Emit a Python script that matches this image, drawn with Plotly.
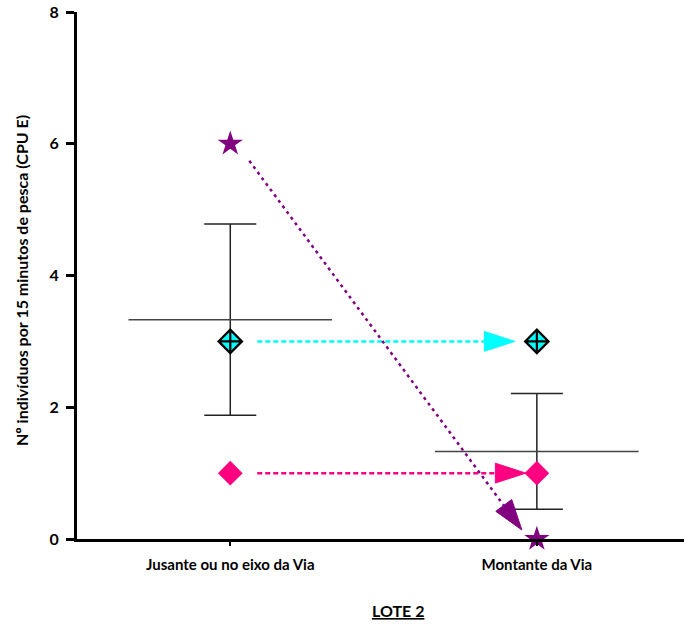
import plotly.graph_objects as go

categories = ["Jusante ou no eixo da Via", "Montante da Via"]
cat_pos = [0, 1]
mean_values = [3.33, 1.33]
error_values = [1.45, 0.88]
purple_values = [6, 0]
cyan_values = [3, 3]
pink_values = [1, 1]

FONT = "Lato"
fig = go.Figure()

# mean line (horizontal) + error bar (vertical)
fig.add_trace(go.Scatter(
    x=cat_pos, y=mean_values, mode="markers",
    marker=dict(size=1, color="rgba(0,0,0,0)"),
    error_x=dict(type="constant", value=0.332, color="#444", thickness=1.5, width=0),
    error_y=dict(type="data", array=error_values, color="#222", thickness=1.5, width=26),
    showlegend=False, hoverinfo="skip"))


def arrow(vals, color, dash, f0, f1, size):
    x0, x1 = cat_pos
    y0, y1 = vals
    xs = [x0 + f0[0] * (x1 - x0), x0 + f1[0] * (x1 - x0)]
    ys = [y0 + f0[1] * (y1 - y0), y0 + f1[1] * (y1 - y0)]
    fig.add_trace(go.Scatter(
        x=xs, y=ys, mode="lines+markers",
        line=dict(color=color, width=2.5, dash=dash),
        marker=dict(symbol="arrow", size=[0, size], color=color, opacity=1,
                    angleref="previous", line=dict(width=1, color=color)),
        showlegend=False, hoverinfo="skip", cliponaxis=False))


arrow(cyan_values, "#00FFFF", "5px,3px", (0.088, 0.088), (0.928, 0.928), 32)
arrow(pink_values, "#FF0080", "5px,3px", (0.088, 0.088), (0.964, 0.964), 32)
arrow(purple_values, "#800080", "3px,4px", (0.062, 0.043), (0.951, 0.977), 32)

fig.add_trace(go.Scatter(
    x=cat_pos, y=pink_values, mode="markers",
    marker=dict(symbol="diamond", size=19, color="#FF0080", line=dict(width=0)),
    showlegend=False, cliponaxis=False))
fig.add_trace(go.Scatter(
    x=cat_pos, y=cyan_values, mode="markers",
    marker=dict(symbol="diamond-cross", size=18, color="#00FFFF",
                line=dict(color="black", width=2.2)),
    showlegend=False, cliponaxis=False))
fig.add_trace(go.Scatter(
    x=cat_pos, y=purple_values, mode="markers",
    marker=dict(symbol="star", size=19, color="#800080", line=dict(width=0)),
    showlegend=False, cliponaxis=False))

fig.update_layout(
    width=684, height=625,
    margin=dict(l=77, r=0, t=12, b=86, autoexpand=False),
    plot_bgcolor="white", paper_bgcolor="white",
    font=dict(family=FONT, color="black"),
    xaxis=dict(
        range=[-0.5, 1.48], tickmode="array", tickvals=cat_pos, ticktext=categories,
        automargin=False,
        showgrid=False, zeroline=False, showline=True, linecolor="black", linewidth=3,
        ticks="outside", ticklen=4, tickwidth=2, tickcolor="black", ticklabelstandoff=6,
        tickfont=dict(family=FONT, size=15, color="black", weight="bold"),
    ),
    yaxis=dict(
        range=[0, 8], tickvals=[0, 2, 4, 6, 8], automargin=False,
        showgrid=False, zeroline=False, showline=True, linecolor="black", linewidth=3,
        ticks="outside", ticklen=8, tickwidth=3, tickcolor="black", ticklabelstandoff=4,
        ticklabeloverflow="allow",
        tickfont=dict(family=FONT, size=16, color="black", weight="bold"),
    ),
    annotations=[
        dict(text="<u>LOTE 2</u>", xref="paper", yref="paper",
             x=(398 - 77) / (684 - 77), y=0, yshift=-71, showarrow=False,
             xanchor="center", yanchor="middle",
             font=dict(family=FONT, size=16, weight="bold", color="black")),
        dict(text="Nº indivíduos por 15 minutos de pesca (CPU E)", xref="paper", yref="paper",
             x=0, xshift=-56, y=(539 - 281) / 527, textangle=-90, showarrow=False,
             xanchor="center", yanchor="middle",
             font=dict(family=FONT, size=16, weight="bold", color="black")),
    ],
)

fig.write_html("out.html", config={"displayModeBar": False},
               post_script="document.body.style.margin='0';")
